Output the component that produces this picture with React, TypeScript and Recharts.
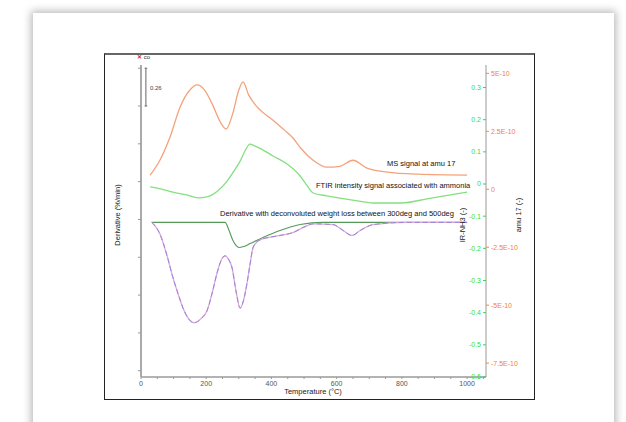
import { ComposedChart, Line, XAxis, YAxis, ReferenceLine } from "recharts";

// MS signal at amu 17 (units of 1E-10)
const msTemp = [28, 58, 89, 120, 150, 172, 195, 220, 245, 261, 280, 300, 313, 330, 356, 405, 440, 466, 490, 528, 570, 610, 650, 693, 754, 850, 1000];
const msSignal = [0.61, 1.25, 2.25, 3.55, 4.28, 4.5, 4.28, 3.63, 2.85, 2.6, 3.2, 4.28, 4.63, 4.07, 3.55, 2.98, 2.55, 2.21, 1.77, 1.25, 0.95, 0.99, 1.25, 0.91, 0.74, 0.65, 0.61];

// FTIR intensity of ammonia
const irTemp = [28, 60, 98, 140, 175, 202, 235, 264, 285, 304, 320, 334, 350, 365, 405, 448, 488, 510, 528, 570, 650, 712, 800, 877, 930, 1000];
const irSignal = [-0.009, -0.015, -0.025, -0.034, -0.043, -0.04, -0.022, 0.009, 0.04, 0.071, 0.105, 0.124, 0.118, 0.111, 0.087, 0.062, 0.025, -0.006, -0.028, -0.037, -0.05, -0.059, -0.059, -0.046, -0.037, -0.025];

// derivative weight loss (%/min)
const dtgTemp = [33, 45, 58, 80, 98, 115, 129, 145, 163, 185, 202, 220, 233, 248, 258, 270, 279, 292, 304, 314, 325, 335, 344, 365, 426, 466, 497, 528, 589, 620, 647, 672, 712, 816, 1000];
const dtgValue = [-0.02, -0.05, -0.1, -0.25, -0.4, -0.52, -0.61, -0.68, -0.71, -0.68, -0.63, -0.49, -0.37, -0.27, -0.25, -0.28, -0.33, -0.5, -0.61, -0.56, -0.44, -0.3, -0.19, -0.14, -0.11, -0.09, -0.055, -0.03, -0.035, -0.076, -0.11, -0.076, -0.035, -0.02, -0.02];

// deconvoluted peak 300-500deg
const peakTemp = [33, 258, 270, 282, 292, 301, 315, 334, 374, 426, 488, 558, 1000];
const peakValue = [-0.02, -0.02, -0.076, -0.145, -0.18, -0.193, -0.186, -0.166, -0.124, -0.076, -0.035, -0.02, -0.02];

const xTicks = [0, 50, 100, 150, 200, 250, 300, 350, 400, 450, 500, 550, 600, 650, 700, 750, 800, 850, 900, 950, 1000, 1050];
const leftTicks = [-1.04, -0.78, -0.52, -0.26, 0, 0.26, 0.52, 0.78, 1.04];
const irTicks = [0.3, 0.2, 0.1, 0, -0.1, -0.2, -0.3, -0.4, -0.5, -0.6];
const msTicks = [5, 2.5, 0, -2.5, -5, -7.5];

const toRows = (t: number[], v: number[]) => t.map((x, i) => ({ t: x, v: v[i] }));

const font = '"Liberation Sans", Arial, sans-serif';

const note = (left: number, top: number, text: string, extra: any = {}) => (
  <div
    style={{
      position: "absolute",
      left,
      top,
      fontSize: 7.5,
      color: "#111",
      whiteSpace: "nowrap",
      lineHeight: 1,
      ...extra
    }}
  >
    {text}
  </div>
);

const vLabel = (cx: number, cy: number, text: string, color = "#222") => (
  <div
    style={{
      position: "absolute",
      left: cx,
      top: cy,
      fontSize: 7.5,
      color,
      whiteSpace: "nowrap",
      lineHeight: 1,
      transform: "translate(-50%, -50%) rotate(-90deg)"
    }}
  >
    {text}
  </div>
);

export default function App() {
  return (
    <div style={{ position: "fixed", left: 0, top: 0, width: 626, height: 422, background: "#fff", overflow: "hidden", fontFamily: font }}>
      {/* card */}
      <div style={{ position: "absolute", left: 33, top: 13, width: 581, height: 430, background: "#fff", boxShadow: "0 0 8px 2px rgba(0,0,0,0.28)" }} />
      {/* chart frame */}
      <div style={{ position: "absolute", left: 104, top: 53, width: 429, height: 344, border: "1px solid #222", borderTop: "2px solid #666", background: "#fff" }}>
        <ComposedChart width={429} height={344} margin={{ top: 10, right: 0, bottom: 0, left: 0 }}>
          <XAxis
            dataKey="t"
            type="number"
            domain={[0, 1058]}
            ticks={xTicks}
            allowDataOverflow
            tickSize={2}
            tickLine={{ stroke: "#999" }}
            axisLine={{ stroke: "#9a9a9a", strokeWidth: 1.5 }}
            height={22}
            tick={{ fontSize: 7, fill: "#555", fontFamily: font }}
            tickFormatter={(v: number) => (v % 200 === 0 ? String(v) : "")}
          />
          <YAxis
            yAxisId="left"
            type="number"
            domain={[-1.083, 1.062]}
            ticks={leftTicks}
            allowDataOverflow
            width={36}
            tickSize={3}
            tickLine={{ stroke: "#999" }}
            axisLine={{ stroke: "#aaa", strokeWidth: 2 }}
            tickFormatter={() => ""}
          />
          <YAxis
            yAxisId="ms"
            orientation="right"
            type="number"
            domain={[-8.1, 5.36]}
            ticks={msTicks}
            allowDataOverflow
            width={48}
            tickSize={3}
            tickLine={{ stroke: "#f08a4a" }}
            axisLine={{ stroke: "#999", strokeWidth: 1 }}
            tick={{ fontSize: 7, fill: "#f07f3c", fontFamily: font }}
            tickFormatter={(v: number) => (v === 0 ? "0" : `${v}E-10`)}
          />
          <YAxis
            yAxisId="ir"
            orientation="right"
            mirror
            type="number"
            domain={[-0.6, 0.37]}
            ticks={irTicks}
            allowDataOverflow
            tickSize={3}
            tickLine={{ stroke: "#33dd33" }}
            axisLine={false}
            tick={{ fontSize: 7, fill: "#33e033", fontFamily: font }}
            tickFormatter={(v: number) => (v === 0 ? "0" : v.toFixed(1))}
          />
          <ReferenceLine yAxisId="left" segment={[{ x: 15, y: 1.04 }, { x: 15, y: 0.78 }]} stroke="#666" />
          <ReferenceLine yAxisId="left" segment={[{ x: 11, y: 1.04 }, { x: 19, y: 1.04 }]} stroke="#666" />
          <ReferenceLine yAxisId="left" segment={[{ x: 11, y: 0.78 }, { x: 19, y: 0.78 }]} stroke="#666" />
          <Line yAxisId="ms" data={toRows(msTemp, msSignal)} dataKey="v" type="monotone" stroke="#f4a27a" strokeWidth={1.3} dot={false} isAnimationActive={false} />
          <Line yAxisId="ir" data={toRows(irTemp, irSignal)} dataKey="v" type="monotone" stroke="#84e07e" strokeWidth={1.3} dot={false} isAnimationActive={false} />
          <Line yAxisId="left" data={toRows(peakTemp, peakValue)} dataKey="v" type="monotone" stroke="#55995a" strokeWidth={1.1} dot={false} isAnimationActive={false} />
          <Line yAxisId="left" data={toRows(dtgTemp, dtgValue)} dataKey="v" type="monotone" stroke="#dcaad8" strokeWidth={1.3} dot={false} isAnimationActive={false} />
          <Line yAxisId="left" data={toRows(dtgTemp, dtgValue)} dataKey="v" type="monotone" stroke="#9a84dc" strokeWidth={1} strokeDasharray="5 3" dot={false} isAnimationActive={false} />
        </ComposedChart>
      </div>
      {/* legend marker and scale label */}
      <div style={{ position: "absolute", left: 137, top: 54, fontSize: 6, lineHeight: 1, whiteSpace: "nowrap" }}>
        <span style={{ color: "#d22", fontWeight: "bold" }}>✕</span> <span style={{ color: "#333" }}>co</span>
      </div>
      {note(150, 85, "0.26", { fontSize: 6, color: "#444" })}
      {note(387, 160, "MS signal at amu 17")}
      {note(316, 182, "FTIR intensity signal associated with ammonia")}
      {note(220, 210, "Derivative with deconvoluted weight loss between 300deg and 500deg")}
      <div style={{ position: "absolute", left: 313, top: 392, transform: "translate(-50%, -50%)", fontSize: 7.5, color: "#222", whiteSpace: "nowrap", lineHeight: 1 }}>
        Temperature (°C)
      </div>
      {vLabel(118, 215, "Derivative (%/min)")}
      {vLabel(463, 225, "IR-NH3 (-)")}
      {vLabel(519, 215, "amu 17 (-)")}
    </div>
  );
}
